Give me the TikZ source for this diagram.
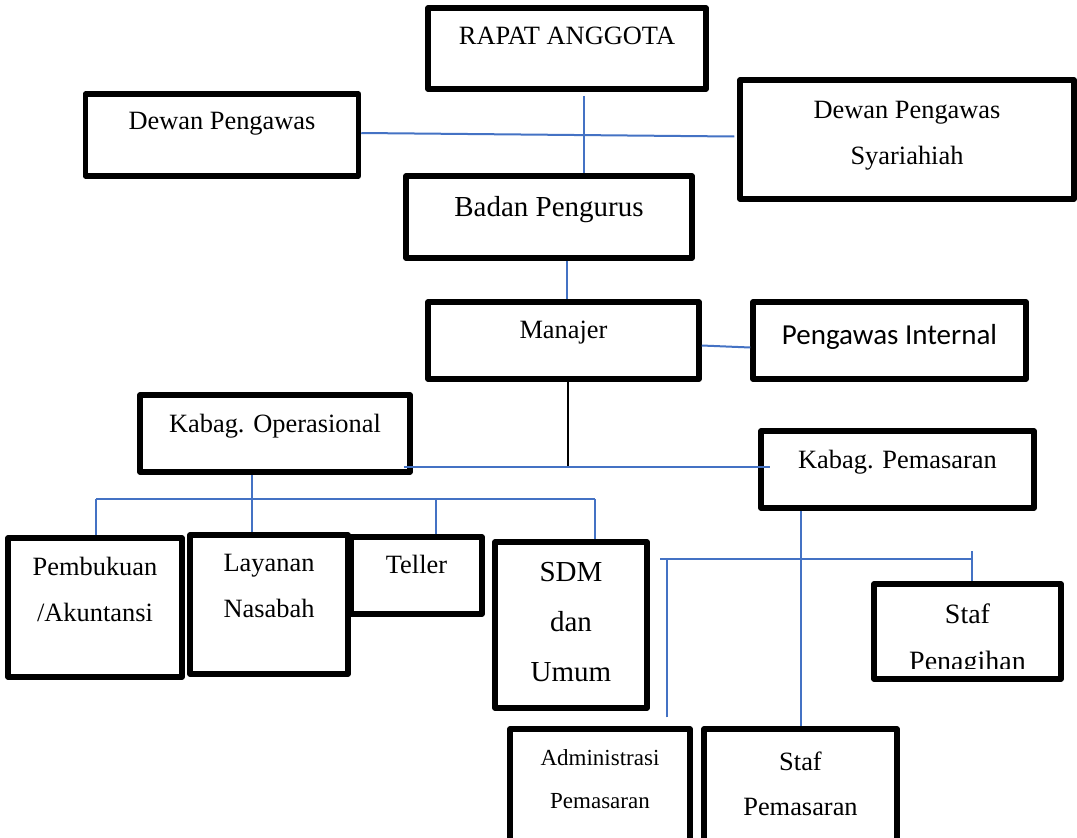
\documentclass[tikz,border=0pt]{standalone}
\usepackage{fontspec}
\setmainfont{Liberation Serif}
\newfontfamily\calibrifont{Carlito}
\usepackage{tikz}
\usetikzlibrary{calc}
\definecolor{lineblue}{RGB}{68,114,196}

\begin{document}
\begin{tikzpicture}[x=1pt,y=-1pt,
  font=\fontsize{26.4}{46}\selectfont,
  unit/.style={draw=black,line width=5.5pt,inner sep=0pt,line join=round},
  txt/.style={anchor=north,align=center,inner sep=0pt,yshift=-22pt},
  conn/.style={draw=lineblue,line width=2pt},
  spine/.style={draw=black,line width=2pt}
]
\path[use as bounding box,fill=white] (0,0) rectangle (1077,838);
\clip (0,0) rectangle (1077,838);

\node[unit,minimum width=278,minimum height=81,label={[txt]north:RAPAT ANGGOTA}] (rapat) at (567,48.5) {};
\node[unit,minimum width=273,minimum height=82,label={[txt,yshift=1pt]north:Dewan Pengawas}] (dp) at (222,135) {};
\node[unit,minimum width=334,minimum height=119,label={[txt,yshift=-2pt]north:{Dewan Pengawas\\Syariahiah}}] (dps) at (907,139.5) {};
\node[unit,minimum width=286,minimum height=82,label={[txt,yshift=-1pt,font=\fontsize{29}{46}\selectfont]north:Badan Pengurus}] (badan) at (549,217) {};
\node[unit,minimum width=271,minimum height=77,label={[txt]north:Manajer}] (manajer) at (563.5,340.5) {};
\node[unit,minimum width=273,minimum height=77,label={[txt,yshift=-3pt,font=\calibrifont\fontsize{29}{46}\selectfont]north:Pengawas Internal}] (pi) at (889.5,340.5) {};
\node[unit,minimum width=270,minimum height=77,label={[txt]north:Kabag. Operasional}] (kop) at (275,433.5) {};
\node[unit,minimum width=273,minimum height=77,label={[txt]north:Kabag. Pemasaran}] (kpem) at (897.5,469.5) {};

\node[unit,minimum width=174,minimum height=139,label={[txt]north:{Pembukuan\\/Akuntansi}}] (pemb) at (95,607.5) {};
\node[unit,minimum width=158,minimum height=139,label={[txt]north:{Layanan\\Nasabah}}] (layanan) at (269,604.5) {};
\node[unit,minimum width=131,minimum height=77,label={[txt,yshift=1pt]north:Teller}] (teller) at (416.5,575.5) {};
\node[unit,minimum width=152,minimum height=166,label={[txt,yshift=-1pt,font=\fontsize{29}{50}\selectfont]north:{SDM\\dan\\Umum}}] (sdm) at (571,625) {};
\node[unit,minimum width=187,minimum height=95,
  path picture={\clip ([yshift=11pt]path picture bounding box.south west) rectangle (path picture bounding box.north east);
    \node[txt,draw=none,minimum width=0pt,minimum height=0pt,yshift=5pt,font=\fontsize{28}{47}\selectfont]
      (penagihantxt) at (path picture bounding box.north) {Staf\\Penagihan};}] (penagihan) at (967.5,631.5) {};
\node[unit,minimum width=180,minimum height=131,label={[txt,yshift=-1pt,font=\fontsize{23}{43}\selectfont]north:{Administrasi\\Pemasaran}}] (admin) at (600,794.5) {};
\node[unit,minimum width=193,minimum height=131,label={[txt,yshift=-3pt,font=\fontsize{26.4}{45}\selectfont]north:{Staf\\Pemasaran}}] (stafpem) at (800.5,794.5) {};

\coordinate (ra) at ($(rapat.south)+(17,4)$);
\draw[conn] (ra) -- (ra |- badan.north);
\draw[conn] ($(dp.east)+(0,-2)$) -- ($(dps.west)+(-3,-3)$);
\coordinate (ba) at ($(badan.south)+(18,0)$);
\draw[conn] (ba) -- (ba |- manajer.north);
\draw[conn] ($(manajer.east)+(0,5)$) -- ($(pi.west)+(0,7)$);

\coordinate (opl) at ($(kop.south east)+(-9,-8)$);
\coordinate (ma) at ($(manajer.south)+(4,0)$);
\draw[spine] (ma) -- (ma |- opl);
\coordinate (kpin) at ($(kpem.west)+(12,0)$);
\draw[conn] (opl) -- (kpin |- opl);

\coordinate (ka) at ($(kop.south)+(-23,0)$);
\draw[conn] (ka) -- (ka |- layanan.north);
\coordinate (opbus) at ($(kop.south)+(0,24)$);
\foreach \b/\dx in {pemb/1,teller/19.5,sdm/24}{
  \coordinate (d\b) at ($(\b.north)+(\dx,0)$);
  \draw[conn] (d\b) -- (d\b |- opbus);
}
\draw[conn] (dpemb |- opbus) -- (dsdm |- opbus);

\coordinate (pmbus) at ($(kpem.south)+(0,48)$);
\draw[conn] (stafpem.north |- kpem.south) -- (stafpem.north);
\coordinate (pa) at ($(penagihan.north)+(4.5,-30)$);
\draw[conn] (pa) -- (pa |- penagihan.north);
\coordinate (aa) at ($(admin.north)+(67,-9)$);
\draw[conn] (aa) -- (aa |- pmbus);
\coordinate (al) at ($(admin.north)+(60,0)$);
\draw[conn] (al |- pmbus) -- (pa |- pmbus);
\end{tikzpicture}
\end{document}
